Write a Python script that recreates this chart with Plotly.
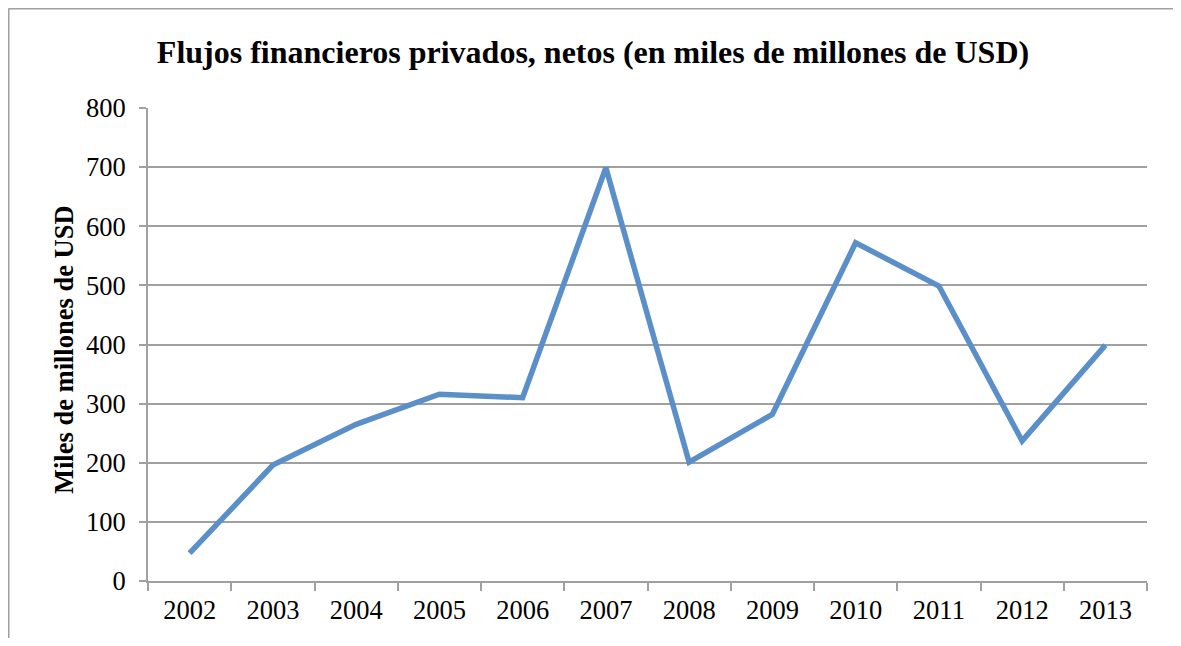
import plotly.graph_objects as go

# datos del gráfico
anios = ["2002", "2003", "2004", "2005", "2006", "2007",
         "2008", "2009", "2010", "2011", "2012", "2013"]
flujos = [47, 196, 265, 316, 310, 699, 201, 282, 572, 499, 237, 399]
y_ticks = [0, 100, 200, 300, 400, 500, 600, 700, 800]

GRIS = "#A0A0A0"
FUENTE = "Liberation Serif, Times New Roman, serif"

# la página deja 8 px de margen en el body: la figura se reduce en esa medida
W, H = 1173, 630
L, R, T, B = 140, 34, 100, 57
ancho = W - L - R
alto = H - T - B

fig = go.Figure()
fig.add_trace(go.Scatter(
    x=anios, y=flujos, mode="lines",
    line=dict(color="#5B8FC9", width=5.5),
    showlegend=False,
))

fig.update_layout(
    width=W, height=H,
    paper_bgcolor="white", plot_bgcolor="white",
    margin=dict(l=L, r=R, t=T, b=B),
    font=dict(family=FUENTE, color="black"),
    title=dict(
        text="<b>Flujos financieros privados, netos (en miles de millones de USD)</b>",
        font=dict(size=32, family=FUENTE, color="black"),
        xref="paper", x=(593 - 8 - L) / ancho, xanchor="center",
        yref="container", y=1 - (52 - 8) / H, yanchor="middle",
    ),
)

fig.update_xaxes(
    type="category", tickson="boundaries", range=[-0.5, len(anios) - 0.5],
    showline=True, linecolor=GRIS, linewidth=2,
    ticks="outside", ticklen=8, tickcolor=GRIS, tickwidth=2,
    showgrid=False, tickfont=dict(size=26.5, family=FUENTE),
    ticklabelstandoff=4,
)
fig.update_yaxes(
    range=[0, 800], tickvals=y_ticks,
    showline=True, linecolor=GRIS, linewidth=2,
    ticks="outside", ticklen=7, tickcolor=GRIS, tickwidth=2,
    showgrid=True, gridcolor=GRIS, gridwidth=1.5,
    zeroline=False, tickfont=dict(size=26.5, family=FUENTE),
    ticklabelstandoff=8,
)

fig.add_annotation(
    text="<b>Miles de millones de USD</b>",
    xref="paper", yref="paper",
    x=(64 - 8 - L) / ancho, y=(581 - 350) / alto,
    xanchor="center", yanchor="middle",
    textangle=-90, showarrow=False,
    font=dict(size=26.5, family=FUENTE, color="black"),
)

# marco exterior: izquierda y arriba en gris, derecha muy clara
bx0 = (0.5 - L) / ancho
bx1 = (1171.5 - L) / ancho
by1 = (alto + T - 0.5) / alto
by0 = -B / alto
fig.add_shape(type="line", xref="paper", yref="paper",
              x0=bx0, x1=bx0, y0=by0, y1=by1,
              line=dict(color=GRIS, width=2), layer="below")
fig.add_shape(type="line", xref="paper", yref="paper",
              x0=bx0, x1=bx1, y0=by1, y1=by1,
              line=dict(color=GRIS, width=2), layer="below")
fig.add_shape(type="line", xref="paper", yref="paper",
              x0=bx1, x1=bx1, y0=by0, y1=by1,
              line=dict(color="#E6E6E6", width=2), layer="below")

fig.write_html("out.html")
